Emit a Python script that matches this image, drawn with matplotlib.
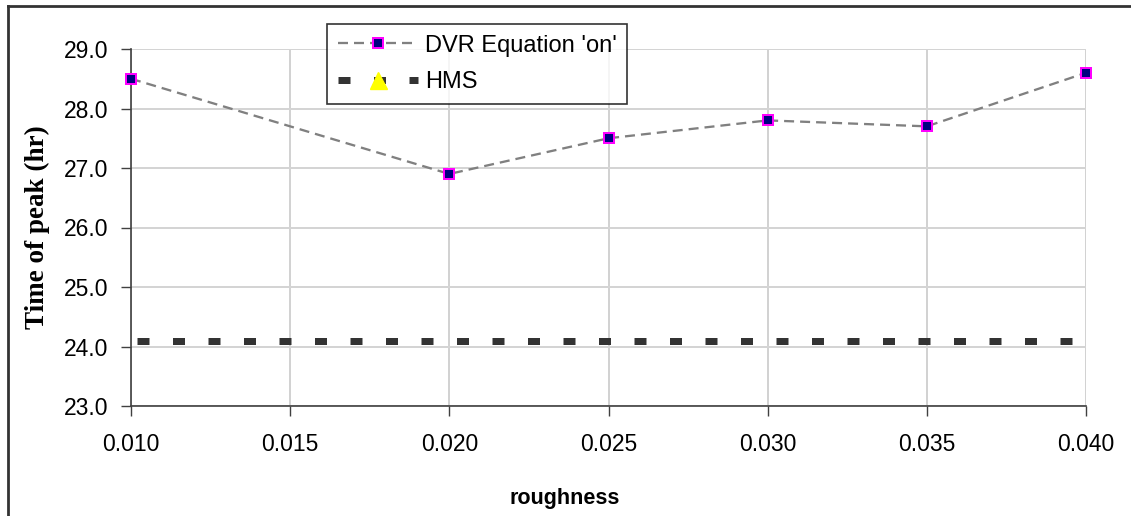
import matplotlib
matplotlib.use("Agg")
import matplotlib.pyplot as plt
from matplotlib.lines import Line2D

roughness = [0.010, 0.020, 0.025, 0.030, 0.035, 0.040]
dvr_on = [28.5, 26.9, 27.5, 27.8, 27.7, 28.6]
hms_x = [0.010, 0.040]
hms = [24.1, 24.1]
xticks = [0.010, 0.015, 0.020, 0.025, 0.030, 0.035, 0.040]
yticks = [23.0, 24.0, 25.0, 26.0, 27.0, 28.0, 29.0]

W, H = 1131, 516
fig = plt.figure(figsize=(W / 100, H / 100), dpi=100)
ax = fig.add_axes([131 / W, 1 - 406 / H, (1086 - 131) / W, (406 - 49) / H])

px = 0.72  # points per pixel at 100 dpi

# HMS thick dashed line
ax.plot(hms_x, hms, color="#333333", lw=7 * px, solid_capstyle="butt",
        dash_capstyle="butt",
        linestyle=(29.5 / 7, (12 / 7, 23.5 / 7)), zorder=3)

# DVR line
ax.plot(roughness, dvr_on, color="#808080", lw=2.3 * px,
        linestyle=(0, (10 / 2.3, 6 / 2.3)), marker="s", markersize=10 * px,
        markerfacecolor="#000080", markeredgecolor="#ff00ff",
        markeredgewidth=2 * px, zorder=4, clip_on=False)

ax.set_xlim(0.010, 0.040)
ax.set_ylim(23.0, 29.0)
ax.set_xticks(xticks)
ax.set_yticks(yticks)
ax.set_xticklabels([f"{v:.3f}" for v in xticks])
ax.set_yticklabels([f"{v:.1f}" for v in yticks])

for lab in ax.get_xticklabels() + ax.get_yticklabels():
    lab.set_fontfamily("Liberation Sans")
    lab.set_fontsize(16.5)

ax.tick_params(axis="y", direction="out", length=10 * px, width=1, color="#404040", pad=9)
ax.tick_params(axis="x", direction="out", length=10 * px, width=1, color="#404040", pad=12)

ax.grid(True, axis="y", color="#d4d4d4", lw=2 * px)
ax.grid(True, axis="x", color="#c4c4c4", lw=1.5 * px)
ax.set_axisbelow(True)
for s in ["top", "right"]:
    ax.spines[s].set_visible(False)
for s in ["left", "bottom"]:
    ax.spines[s].set_color("#404040")
    ax.spines[s].set_linewidth(1.2)

ax.set_ylabel("Time of peak (hr)", family="Liberation Serif", fontweight="bold",
              fontsize=19.5)
ax.yaxis.set_label_coords(-(131 - 50) / (1086 - 131), 0.5)
ax.set_xlabel("roughness", family="Liberation Sans", fontweight="bold", fontsize=15.5)
ax.xaxis.set_label_coords((565 - 131) / (1086 - 131), -(488 - 406) / (406 - 49))

# legend
h1 = Line2D([], [], color="#808080", lw=2.3 * px, linestyle=(0, (10 / 2.3, 6 / 2.3)),
            marker="s", markersize=10 * px, markerfacecolor="#000080",
            markeredgecolor="#ff00ff", markeredgewidth=2 * px)
h2 = Line2D([], [], color="#333333", lw=7 * px, linestyle=(0, (12 / 7, 23.5 / 7)),
            dash_capstyle="butt", marker="^", markersize=17 * px,
            markerfacecolor="#ffff00", markeredgecolor="#ffff00")
leg = fig.legend([h1, h2], ["DVR Equation 'on'", "HMS"],
                 loc="upper left", bbox_to_anchor=(327 / W, 1 - 24 / H),
                 bbox_transform=fig.transFigure, borderaxespad=0,
                 prop=dict(family="Liberation Sans", size=17),
                 frameon=True, fancybox=False, edgecolor="black",
                 handlelength=3.4, handletextpad=0.3, borderpad=0.45,
                 labelspacing=0.62, markerscale=1.0)
leg.get_frame().set_linewidth(1.2)

# outer chart border (top and left visible)
fig.add_artist(Line2D([8 / W, 8 / W], [0, 1 - 6 / H], transform=fig.transFigure,
                      color="#333333", lw=2))
fig.add_artist(Line2D([8 / W, 1], [1 - 6 / H, 1 - 6 / H], transform=fig.transFigure,
                      color="#333333", lw=2))

fig.savefig("out.png", dpi=100)
